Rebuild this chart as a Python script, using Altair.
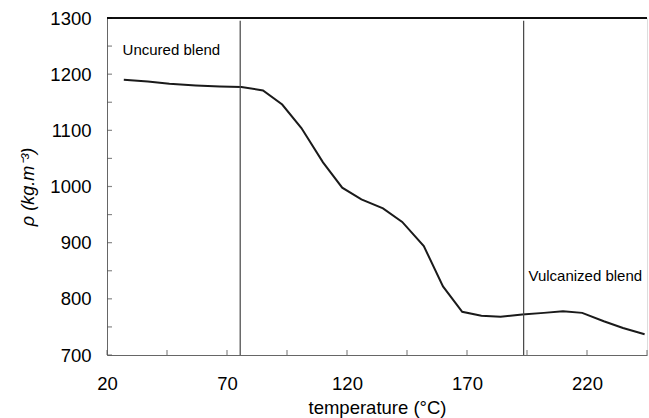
import altair as alt
import pandas as pd

# data
temps = [27, 37, 46, 57, 67, 76, 85, 93, 101, 110, 118, 126, 135, 143, 152,
         160, 168, 176, 184, 193, 202, 210, 218, 227, 235, 244]
rho = [1190, 1187, 1183, 1180, 1178, 1177, 1171, 1146, 1104, 1043, 998, 977,
       961, 937, 894, 822, 777, 770, 768, 772, 775, 778, 775, 760, 748, 737]
vlines = [75.5, 193.6]
annot_text = ["Uncured blend", "Vulcanized blend"]
annot_x = [26.5, 195.6]
annot_y = [1235, 832]
x_tick_values = [20, 45, 70, 95, 120, 145, 170, 195, 220, 245]
x_label_values = [20, 70, 120, 170, 220]
y_tick_values = [700, 750, 800, 850, 900, 950, 1000, 1050, 1100, 1150, 1200, 1250, 1300]
y_label_values = [700, 800, 900, 1000, 1100, 1200, 1300]

W, H = 540, 337
FONT = "Liberation Sans"

df = pd.DataFrame({"t": temps, "rho": rho})
vdf = pd.DataFrame({"t": vlines})
adf = pd.DataFrame({"label": annot_text, "t": annot_x, "rho": annot_y})
xt = pd.DataFrame({"tick_t": x_tick_values})
yt = pd.DataFrame({"tick_rho": y_tick_values})

xscale = alt.Scale(domain=[20, 245], nice=False, zero=False)
yscale = alt.Scale(domain=[700, 1300], nice=False, zero=False)

xaxis = alt.Axis(values=x_label_values, ticks=False, grid=False, domainColor="#666",
                 labelFontSize=18.5, labelFont=FONT, labelColor="#000", labelPadding=19,
                 labelFlush=False, format="d",
                 title="temperature (°C)", titleFont=FONT, titleFontSize=18.5,
                 titleFontWeight="normal", titleColor="#000", titlePadding=6)
yaxis = alt.Axis(values=y_label_values, ticks=False, grid=False, domainColor="#666",
                 labelFontSize=18.5, labelFont=FONT, labelColor="#000", labelPadding=16,
                 labelFlush=False, format="d",
                 title="ρ (kg.m⁻³)", titleFont=FONT, titleFontSize=18,
                 titleFontWeight="normal", titleFontStyle="italic", titleColor="#000",
                 titlePadding=12)

line = alt.Chart(df).mark_line(color="#1a1a1a", strokeWidth=2).encode(
    x=alt.X("t:Q", scale=xscale, axis=xaxis),
    y=alt.Y("rho:Q", scale=yscale, axis=yaxis),
)

rules = alt.Chart(vdf).mark_rule(color="#444", strokeWidth=1.2).encode(
    x=alt.X("t:Q", scale=xscale),
    y=alt.datum(1295),
    y2=alt.datum(700),
)

texts = alt.Chart(adf).mark_text(align="left", baseline="alphabetic", font=FONT,
                                 fontSize=15, color="#000").encode(
    x=alt.X("t:Q", scale=xscale),
    y=alt.Y("rho:Q", scale=yscale),
    text="label:N",
)

xticks = alt.Chart(xt).mark_tick(color="#555", thickness=1.2, size=5, orient="vertical",
                                 yOffset=-2.5).encode(
    x=alt.X("tick_t:Q", scale=xscale),
    y=alt.datum(700),
)
yticks = alt.Chart(yt).mark_tick(color="#555", thickness=1.2, size=5, orient="horizontal",
                                 xOffset=2.5).encode(
    y=alt.Y("tick_rho:Q", scale=yscale),
    x=alt.datum(20),
)

top_border = alt.Chart(vdf).mark_rule(color="#000", strokeWidth=1.5).encode(
    x=alt.datum(20), x2=alt.datum(245), y=alt.datum(1300),
)

chart = alt.layer(line, rules, texts, xticks, yticks, top_border).properties(
    width=W, height=H,
    autosize=alt.AutoSizeParams(type="none"),
    padding={"left": 107, "top": 18, "right": 2, "bottom": 63},
).configure_view(stroke=None).configure(background="white")

chart.save("out.html", embed_options={"renderer": "svg", "actions": False})
